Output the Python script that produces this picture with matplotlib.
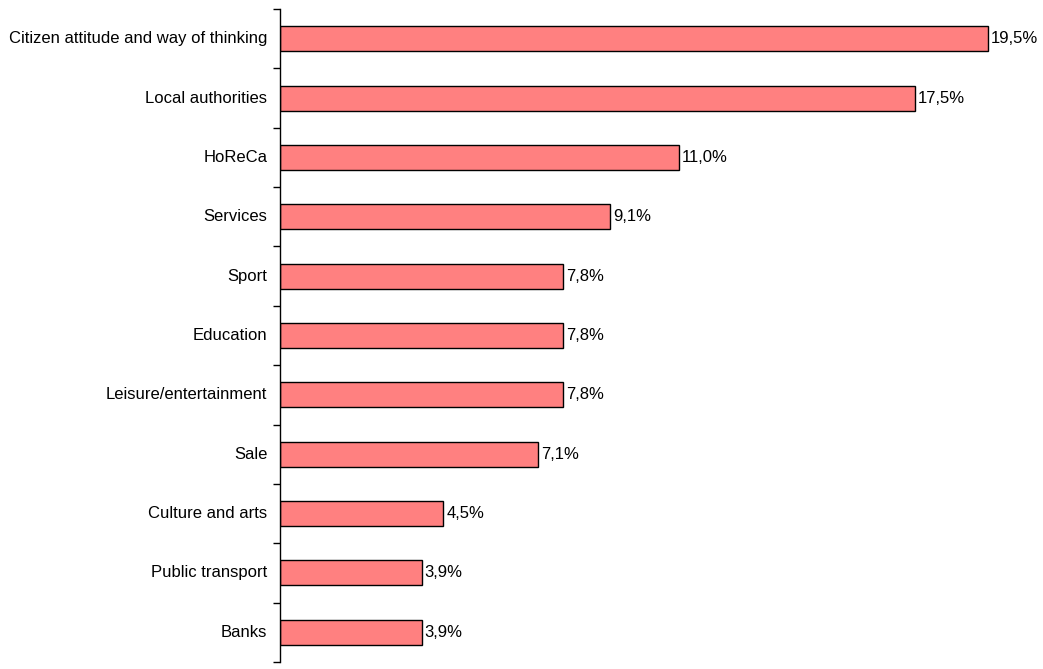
import matplotlib
matplotlib.use('Agg')
import matplotlib.pyplot as plt
import numpy as np

plt.rcParams['font.family'] = ['Liberation Sans', 'DejaVu Sans']

categories = ['Citizen attitude and way of thinking', 'Local authorities', 'HoReCa',
              'Services', 'Sport', 'Education', 'Leisure/entertainment', 'Sale',
              'Culture and arts', 'Public transport', 'Banks']
values = [19.5, 17.5, 11.0, 9.1, 7.8, 7.8, 7.8, 7.1, 4.5, 3.9, 3.9]

fig = plt.figure(figsize=(10.43, 6.69), dpi=100)
ax = fig.add_axes([280/1043, 7/669, 760/1043, 653/669])

y = np.arange(len(categories))
ax.barh(y, values, height=0.42, color='#FF8080', edgecolor='black', linewidth=1.0)

for yi, v in zip(y, values):
    ax.text(v + 0.08, yi, f'{v:.1f}%'.replace('.', ','), va='center', ha='left', fontsize=12)
    ax.text(-0.35, yi, categories[yi], va='center', ha='right', fontsize=12)

ax.set_ylim(len(categories) - 0.5, -0.5)
ax.set_xlim(0, 760 / 36.3)
ax.set_yticks(np.arange(-0.5, len(categories)))
ax.set_yticklabels([])
ax.tick_params(axis='y', direction='out', length=5, width=1)
ax.set_xticks([])
for s in ['top', 'right', 'bottom']:
    ax.spines[s].set_visible(False)
ax.spines['left'].set_linewidth(1)

fig.savefig('out.png', dpi=100)
